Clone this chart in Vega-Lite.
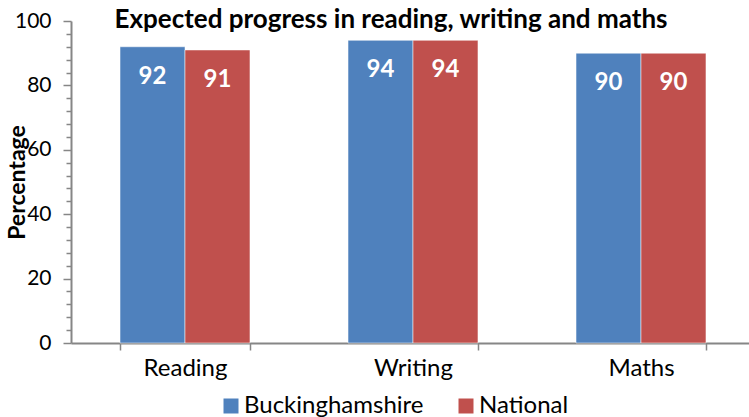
{
  "$schema": "https://vega.github.io/schema/vega-lite/v6.json",
  "width": 678,
  "height": 322,
  "autosize": {"type": "none"},
  "padding": {"left": 71, "top": 21, "right": 0, "bottom": 74},
  "background": "white",
  "title": {
    "text": "Expected progress in reading, writing and maths",
    "font": "Lato",
    "fontSize": 26,
    "fontWeight": "bold",
    "color": "#000000",
    "anchor": "middle",
    "dx": -19,
    "dy": 26,
    "offset": -18,
    "baseline": "alphabetic"
  },
  "data": {
    "values": [
      {"subject": "Reading", "area": "Buckinghamshire", "pct": 92},
      {"subject": "Reading", "area": "National", "pct": 91},
      {"subject": "Writing", "area": "Buckinghamshire", "pct": 94},
      {"subject": "Writing", "area": "National", "pct": 94},
      {"subject": "Maths", "area": "Buckinghamshire", "pct": 90},
      {"subject": "Maths", "area": "National", "pct": 90}
    ]
  },
  "encoding": {
    "x": {
      "field": "subject",
      "type": "nominal",
      "sort": ["Reading", "Writing", "Maths"],
      "scale": {"range": [0, 684], "paddingInner": 0.43, "paddingOuter": 0.215},
      "axis": {
        "title": null,
        "labelAngle": 0,
        "labelFont": "Lato",
        "labelFontSize": 24,
        "labelColor": "#000000",
        "labelPadding": 6,
        "domainColor": "#868686",
        "domainWidth": 2,
        "tickColor": "#868686",
        "tickWidth": 1.5,
        "tickBand": "extent",
        "tickSize": 7,
        "grid": false
      }
    },
    "xOffset": {"field": "area", "type": "nominal", "scale": {"paddingInner": 0}},
    "y": {
      "field": "pct",
      "type": "quantitative",
      "scale": {"domain": [0, 100]},
      "axis": {
        "title": "Percentage",
        "titleFont": "Lato",
        "titleFontSize": 23,
        "titleFontWeight": "bold",
        "titleColor": "#000000",
        "titleX": -54,
        "titleY": 161,
        "titleAngle": -90,
        "titleBaseline": "middle",
        "titleAlign": "center",
        "values": [0,4,8,12,16,20,24,28,32,36,40,44,48,52,56,60,64,68,72,76,80,84,88,92,96,100],
        "labelExpr": "datum.value % 20 === 0 ? datum.label : ''",
        "labelFont": "Lato",
        "labelFontSize": 21,
        "labelColor": "#000000",
        "labelPadding": 12,
        "domainColor": "#868686",
        "domainWidth": 2,
        "tickColor": "#868686",
        "tickWidth": 1.5,
        "tickSize": {"condition": {"test": "datum.value % 20 === 0", "value": 8}, "value": 5},
        "grid": false
      }
    }
  },
  "layer": [
    {
      "mark": {"type": "bar", "stroke": "#ffffff", "strokeOpacity": 0.5, "strokeWidth": 1},
      "encoding": {
        "color": {
          "field": "area",
          "type": "nominal",
          "scale": {"domain": ["Buckinghamshire", "National"], "range": ["#4F81BD", "#C0504D"]},
          "legend": {
            "title": null,
            "orient": "none",
            "direction": "horizontal",
            "legendX": 148,
            "legendY": 373,
            "symbolType": "square",
            "symbolSize": 225,
            "symbolStrokeWidth": 0,
            "labelFont": "Lato",
            "labelFontSize": 24,
            "labelColor": "#000000",
            "labelOffset": 1,
            "columnPadding": 30,
            "labelLimit": 300
          }
        }
      }
    },
    {
      "mark": {"type": "text", "color": "#ffffff", "font": "Lato", "fontSize": 24, "fontWeight": "bold", "baseline": "middle", "dy": 30},
      "encoding": {"text": {"field": "pct", "type": "quantitative"}}
    }
  ],
  "config": {"view": {"stroke": null}}
}
